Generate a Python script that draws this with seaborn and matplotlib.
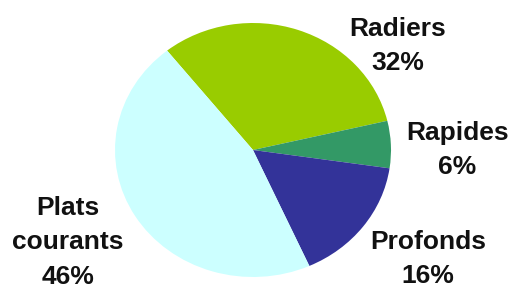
import matplotlib
matplotlib.use('Agg')
import matplotlib.pyplot as plt
import seaborn as sns

sns.set_theme(style='white')
plt.rcParams['font.family'] = ['Liberation Sans', 'DejaVu Sans']

categories = ['Radiers', 'Rapides', 'Profonds', 'Plats\ncourants']
shares = [32, 6, 16, 46]
colors = ['#99CC00', '#339966', '#333399', '#CCFFFF']

# label block centres in axes fraction (x from left, y from bottom)
label_pos = [(0.770, 0.840), (0.886, 0.480), (0.829, 0.100), (0.132, 0.158)]

fig = plt.figure(figsize=(5.16, 2.88), dpi=100)
ax = fig.add_axes([0, 0, 1, 1])

ax.pie(shares, colors=colors, startangle=128.5, counterclock=False,
       radius=1, wedgeprops=dict(linewidth=0))

# pie in the reference is slightly wider than tall
rx, ry = 138, 127      # radii in pixels
cx, cy = 253, 138      # centre in pixels from bottom-left
ax.set_aspect('auto')
ax.set_xlim(-cx / rx, (516 - cx) / rx)
ax.set_ylim(-cy / ry, (288 - cy) / ry)
ax.axis('off')

for name, val, (x, y) in zip(categories, shares, label_pos):
    ax.text(x, y, f'{name}\n{val}%', transform=ax.transAxes,
            ha='center', va='center', fontsize=19, fontweight='bold',
            color='#111111', linespacing=1.55)

fig.savefig('out.png', dpi=100)
